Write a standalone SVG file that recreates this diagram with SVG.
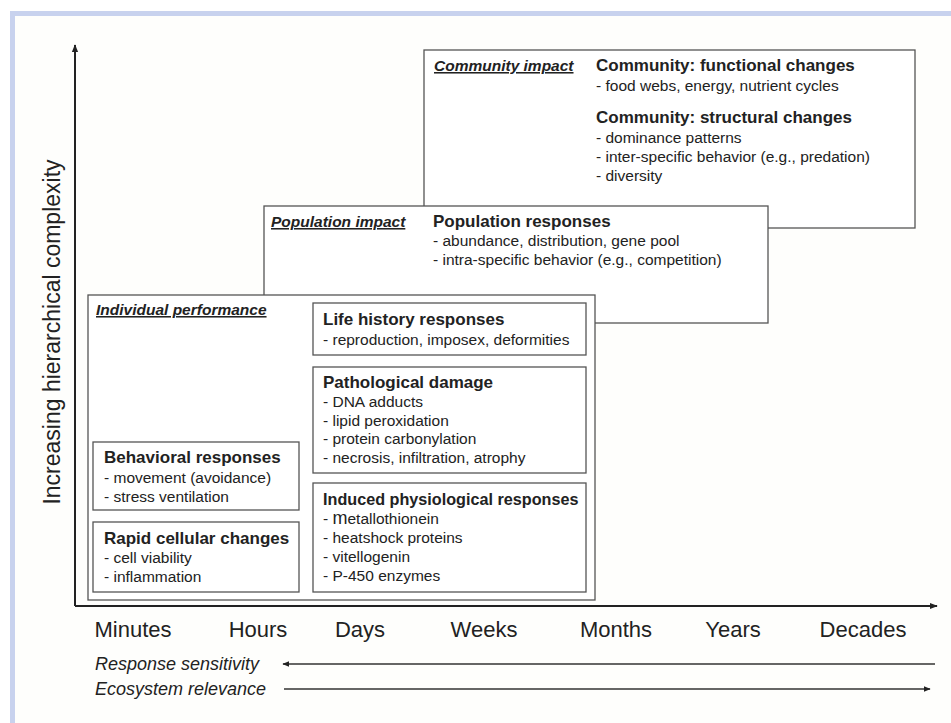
<svg xmlns="http://www.w3.org/2000/svg" width="951" height="723" viewBox="0 0 951 723">
<defs>
<style>
text{font-family:"Liberation Sans",Arial,Helvetica,sans-serif;fill:#222}
.box{fill:#fff;stroke:#555;stroke-width:1.3}
.h{font-weight:bold;font-size:17px}
.b{font-size:15.5px}
.lab{font-weight:bold;font-style:italic;font-size:15.5px;text-decoration:underline}
.t{font-size:22px;text-anchor:middle}
.it{font-style:italic;font-size:18px}
.ax{stroke:#222;stroke-width:2;fill:none}
.ar{stroke:#333;stroke-width:1.3;fill:none}
</style>
<marker id="ah" viewBox="0 0 10 10" refX="9" refY="5" markerWidth="8" markerHeight="8" markerUnits="userSpaceOnUse" orient="auto"><path d="M0,1 L10,5 L0,9 z" fill="#222"/></marker>
<marker id="ahs" viewBox="0 0 10 10" refX="9" refY="5" markerWidth="7" markerHeight="7" markerUnits="userSpaceOnUse" orient="auto"><path d="M0,1 L10,5 L0,9 z" fill="#222"/></marker>
</defs>
<rect x="0" y="0" width="951" height="723" fill="#fff"/>
<rect x="10" y="11" width="941" height="712" fill="#c8d2ee"/>
<rect x="15" y="16" width="936" height="707" fill="#fefefc"/>

<g id="community">
<rect class="box" x="424" y="50" width="491" height="178"/>
<text class="lab" x="434" y="71">Community impact</text>
<text class="h" x="596" y="71">Community: functional changes</text>
<text class="b" x="596" y="91">- food webs, energy, nutrient cycles</text>
<text class="h" x="596" y="123">Community: structural changes</text>
<text class="b" x="596" y="143">- dominance patterns</text>
<text class="b" x="596" y="162">- inter-specific behavior (e.g., predation)</text>
<text class="b" x="596" y="181">- diversity</text>
</g>

<g id="population">
<rect class="box" x="264" y="206" width="504" height="117"/>
<text class="lab" x="271" y="227">Population impact</text>
<text class="h" x="433" y="227">Population responses</text>
<text class="b" x="433" y="246">- abundance, distribution, gene pool</text>
<text class="b" x="433" y="265">- intra-specific behavior (e.g., competition)</text>
</g>

<g id="individual">
<rect class="box" x="88" y="295" width="507" height="305"/>
<text class="lab" x="96" y="315">Individual performance</text>
</g>

<g id="lifehistory">
<rect class="box" x="313" y="303" width="273" height="52"/>
<text class="h" x="323" y="325">Life history responses</text>
<text class="b" x="323" y="345">- reproduction, imposex, deformities</text>
</g>

<g id="pathological">
<rect class="box" x="313" y="367" width="273" height="106"/>
<text class="h" x="323" y="388">Pathological damage</text>
<text class="b" x="323" y="407">- DNA adducts</text>
<text class="b" x="323" y="426">- lipid peroxidation</text>
<text class="b" x="323" y="444">- protein carbonylation</text>
<text class="b" x="323" y="463">- necrosis, infiltration, atrophy</text>
</g>

<g id="induced">
<rect class="box" x="313" y="483" width="273" height="109"/>
<text class="h" x="323" y="505" style="font-size:16.2px">Induced physiological responses</text>
<text class="b" x="323" y="524">- <tspan style="font-size:18px">m</tspan>etallothionein</text>
<text class="b" x="323" y="543">- heatshock proteins</text>
<text class="b" x="323" y="562">- vitellogenin</text>
<text class="b" x="323" y="581">- P-450 enzymes</text>
</g>

<g id="behavioral">
<rect class="box" x="93" y="442" width="206" height="68"/>
<text class="h" x="104" y="463">Behavioral responses</text>
<text class="b" x="104" y="483">- movement (avoidance)</text>
<text class="b" x="104" y="502">- stress ventilation</text>
</g>

<g id="rapid">
<rect class="box" x="93" y="522" width="206" height="70"/>
<text class="h" x="104" y="544">Rapid cellular changes</text>
<text class="b" x="104" y="563">- cell viability</text>
<text class="b" x="104" y="582">- inflammation</text>
</g>

<g id="connectors">
<path class="ax" d="M75,606 L75,45" marker-end="url(#ah)"/>
<path class="ax" d="M75,606 L937,606" marker-end="url(#ah)"/>
<path class="ar" d="M935,664 L283,664" marker-end="url(#ahs)"/>
<path class="ar" d="M284,689 L930,689" marker-end="url(#ahs)"/>
</g>

<g id="labels">
<text font-size="23" text-anchor="middle" transform="translate(60,332) rotate(-90)">Increasing hierarchical complexity</text>
<text class="t" x="133" y="637">Minutes</text>
<text class="t" x="258" y="637">Hours</text>
<text class="t" x="360" y="637">Days</text>
<text class="t" x="484" y="637">Weeks</text>
<text class="t" x="616" y="637">Months</text>
<text class="t" x="733" y="637">Years</text>
<text class="t" x="863" y="637">Decades</text>
<text class="it" x="95" y="670">Response sensitivity</text>
<text class="it" x="95" y="695">Ecosystem relevance</text>
</g>
</svg>
